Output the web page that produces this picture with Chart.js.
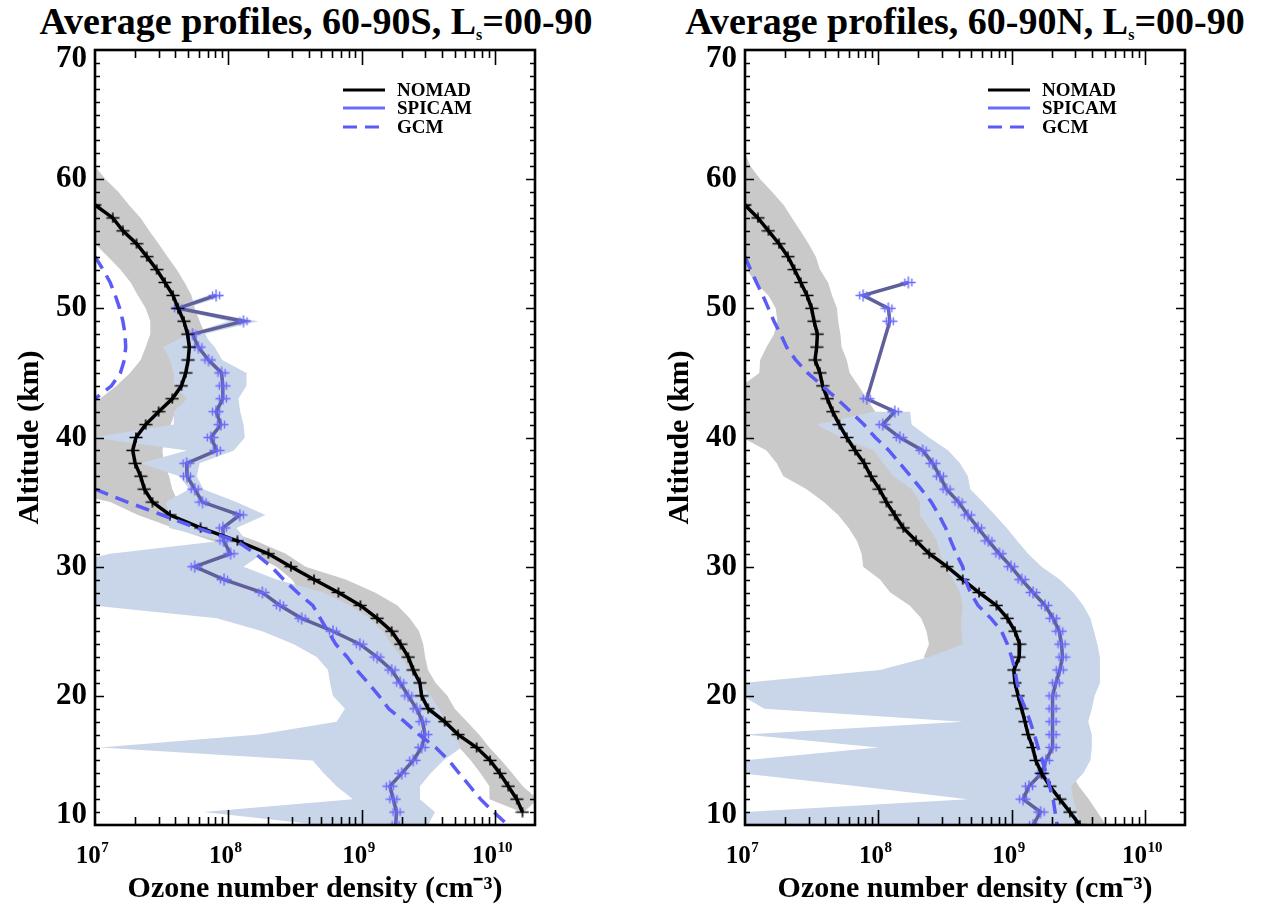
<!DOCTYPE html>
<html>
<head>
<meta charset="utf-8">
<title>Average ozone profiles</title>
<script src="https://cdn.jsdelivr.net/npm/chart.js@4.4.1/dist/chart.umd.min.js"></script>
<style>
  html, body { margin:0; padding:0; background:#ffffff; }
  body { position:relative; width:1270px; height:905px; overflow:hidden; font-family:"Liberation Serif","Times New Roman",serif; color:#000; }
  .wrap { position:absolute; top:0; width:635px; height:905px; }
  .ttl { position:absolute; top:2px; font-size:38px; line-height:38px; font-weight:bold; white-space:nowrap; transform:translateX(-50%); }
  .ttl sub { font-size:16px; line-height:0; vertical-align:-6px; }
</style>
</head>
<body>
<div class="ttl" style="left:316px">Average profiles, 60-90S, L<sub>s</sub>=00-90</div>
<div class="ttl" style="left:965px">Average profiles, 60-90N, L<sub>s</sub>=00-90</div>
<div class="wrap" style="left:0"><canvas id="c1" width="635" height="905"></canvas></div>
<div class="wrap" style="left:635px"><canvas id="c2" width="635" height="905"></canvas></div>
<script>
// ================= DATA (ozone number density, cm^-3; altitude, km) =================
// ---- 60-90S ----
const S_nomadAlt = [58,57,56,55,54,53,52,51,50,49,48,47,46,45,44,43,42,41,40,39,38,37,36,35,34,33,32,31,30,29,28,27,26,25,24,23,22,21,20,19,18,17,16,15,14,13,12,11];
const S_nomad = [1.0e7,1.36e7,1.62e7,2.05e7,2.45e7,2.9e7,3.35e7,3.85e7,4.2e7,4.65e7,4.95e7,5.1e7,5.0e7,4.8e7,4.45e7,3.8e7,3.0e7,2.4e7,2.03e7,1.92e7,2.0e7,2.2e7,2.35e7,2.7e7,3.65e7,6.2e7,1.17e8,2.0e8,2.95e8,4.4e8,6.7e8,9.8e8,1.31e9,1.68e9,1.96e9,2.24e9,2.44e9,2.74e9,2.82e9,3.16e9,4.2e9,5.3e9,7.3e9,9.2e9,1.09e10,1.26e10,1.46e10,1.61e10];
const S_nomadBandAlt = [61,60,59,58,57,56,55,54,53,52,51,50,49,48,47,46,45,44,43,42,41,40,39,38,37,36,35,34,33,32,31,30,29,28,27,26,25,24,23,22,21,20,19,18,17,16,15,14,13,12,11];
const S_nomadMin = [5e6,5e6,5e6,5e6,5e6,5e6,1.0e7,1.25e7,1.55e7,1.85e7,2.1e7,2.4e7,2.6e7,2.6e7,2.4e7,2.2e7,1.83e7,1.45e7,1.09e7,5e6,5e6,5e6,5e6,5e6,5e6,5e6,1.3e7,2.1e7,3.9e7,7.5e7,1.5e8,2.3e8,3.0e8,3.5e8,5.0e8,7.0e8,9.0e8,1.1e9,1.4e9,1.7e9,2.0e9,2.2e9,2.5e9,3.1e9,4.0e9,5.4e9,6.6e9,7.8e9,9.1e9,9.1e9,1.58e10];
const S_nomadMax = [1.0e7,1.2e7,1.5e7,1.8e7,2.2e7,2.55e7,3.0e7,3.5e7,4.1e7,4.7e7,5.3e7,5.6e7,6.1e7,6.7e7,7.5e7,8.0e7,7.5e7,6.3e7,5.0e7,4.0e7,3.7e7,3.4e7,3.2e7,3.3e7,3.6e7,3.8e7,4.2e7,5.2e7,8.5e7,1.6e8,2.7e8,3.8e8,7.6e8,1.26e9,1.86e9,2.3e9,2.7e9,2.9e9,3.0e9,3.15e9,3.6e9,4.4e9,5.0e9,6.2e9,7.6e9,9.1e9,1.12e10,1.35e10,1.62e10,2.1e10,1.65e10];
const S_spicamAlt = [51,50,49,48,47,46,45,44,43,42,41,40,39,38,37,36,35,34,33,32,31,30,29,28,27,26,25,24,23,22,21,20,19,18,17,16,15,14,13,12,11,10];
const S_spicam = [8.1e7,4.2e7,1.3e8,5.4e7,5.96e7,7.1e7,8.9e7,9.1e7,9.1e7,8.1e7,8.8e7,7.4e7,8.2e7,4.87e7,4.9e7,5.6e7,6.4e7,1.22e8,9.1e7,9.2e7,1.04e8,5.6e7,9.3e7,1.8e8,2.44e8,3.55e8,6.1e8,9.7e8,1.31e9,1.68e9,1.95e9,2.24e9,2.59e9,2.87e9,2.99e9,2.82e9,2.44e9,2.0e9,1.63e9,1.73e9,1.83e9,1.8e9];
const S_spicamMin = [7.0e7,3.8e7,1.0e8,5.0e7,3.25e7,3.65e7,3.9e7,3.9e7,4.9e7,3.9e7,3.9e7,9.5e6,4.9e7,2.2e7,4.3e7,5.1e7,3.4e7,3.6e7,3.6e7,9.0e7,1.3e7,5e6,5e6,5e6,9.5e6,8.2e7,1.8e8,3.1e8,4.6e8,5.6e8,5.8e8,6.1e8,7.5e8,6.5e8,1.7e8,1.09e7,4.3e8,5.2e8,6.5e8,8.6e8,6.5e7,5.0e8];
const S_spicamMax = [9.5e7,4.8e7,1.68e8,6.5e7,7.9e7,9.0e7,1.37e8,1.37e8,1.19e8,1.23e8,1.3e8,1.33e8,1.1e8,6.1e7,5.8e7,6.5e7,1.15e8,1.9e8,1.15e8,1.37e8,1.8e8,1.3e8,2.3e8,5.2e8,8.2e8,1.15e9,1.45e9,1.68e9,2.0e9,2.3e9,2.66e9,3.3e9,3.8e9,4.3e9,4.9e9,5.6e9,4.1e9,3.3e9,2.74e9,2.74e9,3.55e9,3.16e9];
const S_gcmAlt = [54,53,52,51,50,49,48,47,46,45,44,43,42,41,40,39,38,37,36,35,34,33,32,31,30,29,28,27,26,25,24,23,22,21,20,19,18,17,16,15,14,13,12,11,10];
const S_gcm = [1.0e7,1.15e7,1.3e7,1.42e7,1.53e7,1.62e7,1.68e7,1.7e7,1.66e7,1.55e7,1.33e7,1.0e7,null,null,null,null,null,null,1.0e7,1.75e7,3.2e7,5.8e7,1.15e8,1.6e8,2.1e8,2.6e8,3.3e8,4.3e8,4.9e8,5.6e8,6.4e8,7.8e8,9.2e8,1.12e9,1.35e9,1.6e9,2.1e9,2.7e9,3.6e9,4.5e9,5.4e9,6.5e9,7.8e9,9.8e9,1.25e10];

// ---- 60-90N ----
const N_nomadAlt = [58,57,56,55,54,53,52,51,50,49,48,47,46,45,44,43,42,41,40,39,38,37,36,35,34,33,32,31,30,29,28,27,26,25,24,23,22,21,20,19,18,17,16,15,14,13,12,11,10];
const N_nomad = [1.0e7,1.25e7,1.5e7,1.8e7,2.1e7,2.35e7,2.62e7,2.92e7,3.16e7,3.3e7,3.49e7,3.45e7,3.35e7,3.65e7,3.82e7,4.15e7,4.55e7,5.1e7,5.8e7,6.7e7,7.85e7,8.8e7,1.02e8,1.15e8,1.33e8,1.54e8,1.92e8,2.41e8,3.28e8,4.3e8,5.7e8,7.7e8,9.3e8,1.06e9,1.15e9,1.14e9,1.04e9,1.06e9,1.12e9,1.19e9,1.26e9,1.33e9,1.44e9,1.52e9,1.68e9,1.94e9,2.3e9,2.74e9,3.25e9];
const N_nomadBandAlt = [62,61,60,59,58,57,56,55,54,53,52,51,50,49,48,47,46,45,44,43,42,41,40,39,38,37,36,35,34,33,32,31,30,29,28,27,26,25,24,23,22,21,20,19,18,17,16,15,14,13,12,11,10];
const N_nomadMin = [5e6,5e6,5e6,5e6,5e6,5e6,5e6,5e6,9.5e6,1.03e7,1.2e7,1.5e7,1.7e7,1.75e7,1.65e7,1.45e7,1.3e7,1.28e7,9.5e6,5e6,5e6,5e6,9.5e6,1.45e7,1.73e7,1.94e7,2.9e7,3.9e7,5.0e7,6.0e7,6.9e7,7.5e7,7.7e7,1.03e8,1.23e8,1.72e8,2.1e8,2.3e8,2.4e8,2.2e8,2.5e8,3.0e8,3.5e8,4.0e8,4.5e8,5.0e8,5.5e8,6.0e8,7.0e8,8.0e8,9.0e8,1.0e9,1.1e9];
const N_nomadMax = [1.0e7,1.1e7,1.3e7,1.6e7,1.95e7,2.25e7,2.6e7,3.0e7,3.4e7,3.65e7,4.2e7,4.5e7,4.9e7,5.0e7,5.2e7,5.3e7,5.8e7,6.1e7,7.1e7,8.2e7,9.5e7,1.1e8,1.3e8,1.5e8,1.7e8,1.9e8,2.2e8,2.6e8,3.0e8,3.4e8,3.8e8,4.4e8,5.2e8,6.2e8,7.5e8,9.0e8,1.1e9,1.3e9,1.45e9,1.5e9,1.5e9,1.6e9,1.8e9,1.9e9,2.0e9,2.1e9,2.3e9,2.5e9,2.8e9,3.2e9,3.8e9,4.4e9,5.1e9];
const N_spicamAlt = [52,51,50,49,43,42,41,40,39,38,37,36,35,34,33,32,31,30,29,28,27,26,25,24,23,22,21,20,19,18,17,16,15,14,13,12,11,10];
const N_spicam = [1.68e8,7.7e7,1.19e8,1.22e8,8.2e7,1.33e8,1.08e8,1.45e8,2.15e8,2.56e8,2.9e8,3.25e8,4.0e8,4.7e8,5.6e8,6.7e8,8.1e8,9.9e8,1.19e9,1.45e9,1.78e9,2.05e9,2.28e9,2.37e9,2.41e9,2.3e9,2.15e9,2.03e9,2.03e9,2.03e9,2.03e9,2.03e9,1.81e9,1.68e9,1.35e9,1.22e9,1.65e9,1.45e9];
const N_spicamBandAlt = [42,41,40,39,38,37,36,35,34,33,32,31,30,29,28,27,26,25,24,23,22,21,20,19,18,17,16,15,14,13,12,11,10];
const N_spicamMin = [9.2e7,3.45e7,5.2e7,9.2e7,1.09e8,1.3e8,1.78e8,2.05e8,2.05e8,2.4e8,2.75e8,2.9e8,3.2e8,3.65e8,4.1e8,4.3e8,4.2e8,4.2e8,4.3e8,2.4e8,1.03e8,9.5e6,9.5e6,1.4e7,4.3e8,1.0e7,1.0e8,9.5e6,9.5e6,7.0e7,4.7e8,9.5e6,9.5e6];
const N_spicamMax = [1.73e8,1.78e8,2.4e8,3.35e8,4.1e8,4.7e8,4.9e8,6.1e8,7.5e8,9.2e8,1.1e9,1.33e9,1.68e9,2.3e9,2.9e9,3.45e9,3.9e9,4.15e9,4.4e9,4.6e9,4.6e9,4.6e9,4.2e9,4.0e9,3.76e9,4.0e9,4.0e9,3.9e9,3.45e9,2.8e9,2.9e9,3.1e9,3.3e9];
const N_gcmAlt = [54,53,52,51,50,49,48,47,46,45,44,43,42,41,40,39,38,37,36,35,34,33,32,31,30,29,28,27,26,25,24,23,22,21,20,19,18,17,16,15,14,13,12,11,10];
const N_gcm = [1.0e7,1.1e7,1.22e7,1.36e7,1.5e7,1.65e7,1.85e7,2.05e7,2.4e7,2.95e7,3.8e7,4.9e7,6.2e7,7.8e7,9.5e7,1.2e8,1.45e8,1.75e8,2.1e8,2.5e8,2.85e8,3.2e8,3.5e8,3.85e8,4.3e8,4.5e8,4.9e8,5.6e8,7.0e8,8.4e8,9.3e8,1.0e9,1.06e9,1.1e9,1.16e9,1.27e9,1.38e9,1.48e9,1.58e9,1.7e9,1.82e9,1.93e9,2.05e9,2.12e9,2.2e9];

// Axis / legend text
const xTickDecades = [1e7, 1e8, 1e9, 1e10];
const yTickLabels = [10, 20, 30, 40, 50, 60, 70];
const legendNames = ['NOMAD', 'SPICAM', 'GCM'];

// ================= STYLE / RENDERING =================
const FONT = '"Liberation Serif", "Times New Roman", serif';

function pts(alts, vals) { return alts.map((a, i) => ({ x: vals[i], y: a })); }
function band(alts, lo, hi) { return pts(alts, lo).concat(pts(alts, hi).reverse()); }

function marker(w, h, color, capOff, lw) {
  const c = document.createElement('canvas');
  c.width = w; c.height = h;
  const g = c.getContext('2d');
  g.strokeStyle = color; g.lineWidth = lw;
  g.beginPath();
  g.moveTo(0.5, h / 2); g.lineTo(w - 0.5, h / 2);
  g.moveTo(w / 2, 0.5); g.lineTo(w / 2, h - 0.5);
  if (capOff) {
    g.moveTo(w / 2 - capOff, h / 2 - 4); g.lineTo(w / 2 - capOff, h / 2 + 4);
    g.moveTo(w / 2 + capOff, h / 2 - 4); g.lineTo(w / 2 + capOff, h / 2 + 4);
  }
  g.stroke();
  return c;
}
const nomadMark = marker(14, 11, '#000000', 0, 1.6);
const spicamMark = marker(16, 13, '#6a6aff', 3.5, 1.4);

const framePlugin = {
  id: 'frame',
  afterDatasetsDraw(chart, args, o) {
    const { ctx, chartArea: a } = chart;
    const xs = chart.scales.x, ys = chart.scales.y;
    ctx.save();
    ctx.strokeStyle = '#000'; ctx.fillStyle = '#000';
    // inward ticks
    ctx.lineWidth = 1.6;
    ctx.beginPath();
    for (const d of xTickDecades) {
      for (let m = 1; m <= 9; m++) {
        const v = d * m;
        if (v <= xs.min || v >= xs.max) continue;
        const px = Math.round(xs.getPixelForValue(v)) + 0.5;
        const L = m === 1 ? 15 : 8;
        ctx.moveTo(px, a.bottom); ctx.lineTo(px, a.bottom - L);
        ctx.moveTo(px, a.top); ctx.lineTo(px, a.top + L);
      }
    }
    for (let v = ys.min + 1; v < ys.max; v++) {
      const py = Math.round(ys.getPixelForValue(v)) + 0.5;
      const L = v % 10 === 0 ? 9 : 5;
      ctx.moveTo(a.left, py); ctx.lineTo(a.left + L, py);
      ctx.moveTo(a.right, py); ctx.lineTo(a.right - L, py);
    }
    ctx.stroke();
    // frame
    ctx.lineWidth = 2.6;
    ctx.strokeRect(a.left, a.top, a.right - a.left, a.bottom - a.top);
    // y tick labels
    ctx.font = 'bold 31px ' + FONT;
    ctx.textAlign = 'right'; ctx.textBaseline = 'middle';
    for (const v of yTickLabels) {
      let py = ys.getPixelForValue(v);
      if (v === ys.max) py += 9;
      if (v === ys.min) py -= 10;
      ctx.fillText(String(v), a.left - 8, py);
    }
    // x tick labels 10^n
    ctx.textAlign = 'left'; ctx.textBaseline = 'alphabetic';
    for (const d of xTickDecades) {
      const px = xs.getPixelForValue(d);
      const e = String(Math.round(Math.log10(d)));
      ctx.font = 'bold 25px ' + FONT;
      const w1 = ctx.measureText('10').width;
      ctx.font = 'bold 15px ' + FONT;
      const w2 = ctx.measureText(e).width;
      const x0 = px - (w1 + w2) / 2 - 3;
      ctx.font = 'bold 25px ' + FONT;
      ctx.fillText('10', x0, a.bottom + 38);
      ctx.font = 'bold 15px ' + FONT;
      ctx.fillText(e, x0 + w1 + 0.5, a.bottom + 27);
    }
    // legend
    ctx.font = 'bold 19px ' + FONT;
    ctx.textBaseline = 'middle';
    legendNames.forEach((name, i) => {
      const ds = chart.data.datasets.find(d => d.label === name);
      const y = o.legendY[i];
      const x1 = a.left + o.legendX;
      ctx.beginPath();
      ctx.lineWidth = 3;
      ctx.strokeStyle = ds.legendColor || ds.borderColor;
      ctx.setLineDash(ds.borderDash || []);
      ctx.moveTo(x1, y); ctx.lineTo(x1 + 42, y);
      ctx.stroke();
      ctx.setLineDash([]);
      ctx.fillText(name, x1 + 54, y + 1);
    });
    ctx.restore();
  }
};

function makeChart(id, P, yWidth, yTitlePad, padRight, legendX) {
  const datasets = [
    { label: '', data: band(P.nbAlt, P.nMin, P.nMax), fill: 'shape', backgroundColor: '#c9c9c9', borderColor: '#c9c9c9', borderWidth: 0, pointRadius: 0, order: 10 },
    { label: '', data: band(P.sbAlt, P.sMin, P.sMax), fill: 'shape', backgroundColor: '#c9d5e8', borderColor: '#c9d5e8', borderWidth: 0, pointRadius: 0, order: 9 },
    { label: 'SPICAM', data: pts(P.sAlt, P.s), fill: false, borderColor: '#5f5f9a', legendColor: '#6a6aff', borderWidth: 3.5, pointStyle: spicamMark, pointRadius: 7, order: 3 },
    { label: 'NOMAD', data: pts(P.nAlt, P.n), fill: false, borderColor: '#000000', borderWidth: 3.5, pointStyle: nomadMark, pointRadius: 7, order: 2 },
    { label: 'GCM', data: pts(P.gAlt, P.g), fill: false, borderColor: '#5b5bf6', borderDash: [14, 8], borderWidth: 3.5, pointRadius: 0, order: 1 }
  ];
  return new Chart(document.getElementById(id), {
    type: 'line',
    data: { datasets },
    options: {
      responsive: false,
      animation: false,
      devicePixelRatio: 1,
      indexAxis: 'y',
      layout: { padding: { top: 50, right: padRight, bottom: 0, left: 0 } },
      elements: { line: { tension: 0 } },
      plugins: {
        legend: { display: false },
        tooltip: { enabled: false },
        frame: { legendX: legendX, legendY: [90, 108, 127] }
      },
      scales: {
        x: {
          type: 'logarithmic', position: 'bottom', min: 1e7, max: 2e10,
          ticks: { display: false }, grid: { display: false }, border: { display: false },
          title: { display: true, text: 'Ozone number density (cm⁻³)', color: '#000', font: { family: FONT, size: 30, weight: 'bold' }, padding: { top: 0, bottom: -2 } },
          afterFit: s => { s.height = 80; }
        },
        y: {
          type: 'linear', position: 'left', min: 10, max: 70,
          ticks: { display: false }, grid: { display: false }, border: { display: false },
          title: { display: true, text: 'Altitude (km)', color: '#000', font: { family: FONT, size: 30, weight: 'bold' }, padding: { top: yTitlePad, bottom: 0 } },
          afterFit: s => { s.width = yWidth; }
        }
      }
    },
    plugins: [framePlugin]
  });
}

makeChart('c1', {
  nAlt: S_nomadAlt, n: S_nomad, nbAlt: S_nomadBandAlt, nMin: S_nomadMin, nMax: S_nomadMax,
  sAlt: S_spicamAlt, s: S_spicam, sbAlt: S_spicamAlt, sMin: S_spicamMin, sMax: S_spicamMax,
  gAlt: S_gcmAlt, g: S_gcm
}, 95, 12, 100, 248);

makeChart('c2', {
  nAlt: N_nomadAlt, n: N_nomad, nbAlt: N_nomadBandAlt, nMin: N_nomadMin, nMax: N_nomadMax,
  sAlt: N_spicamAlt, s: N_spicam, sbAlt: N_spicamBandAlt, sMin: N_spicamMin, sMax: N_spicamMax,
  gAlt: N_gcmAlt, g: N_gcm
}, 110, 27, 85, 243);
</script>
</body>
</html>
